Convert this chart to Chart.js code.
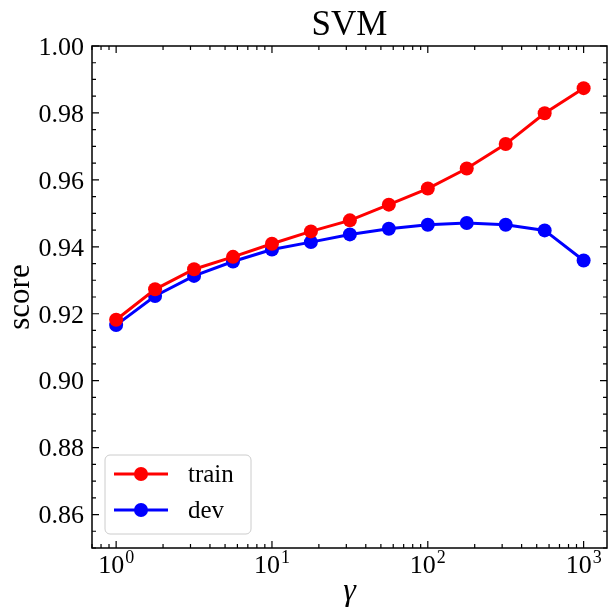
<!DOCTYPE html>
<html>
<head>
<meta charset="utf-8">
<script src="https://cdn.jsdelivr.net/npm/chart.js@4/dist/chart.umd.min.js"></script>
<style>
  html, body { margin: 0; padding: 0; background: #fff; }
  #wrap { width: 608px; height: 614px; }
</style>
</head>
<body>
<div id="wrap"><canvas id="chart" width="608" height="614"></canvas></div>
<script>
// Data
const gammas = [1, 1.778, 3.162, 5.623, 10, 17.78, 31.62, 56.23, 100, 177.8, 316.2, 562.3, 1000];
const trainScores = [0.9182, 0.9273, 0.9333, 0.9370, 0.9409, 0.9446, 0.9479, 0.9526, 0.9574, 0.9634, 0.9707, 0.9799, 0.9874];
const devScores = [0.9166, 0.9253, 0.9313, 0.9356, 0.9392, 0.9414, 0.9437, 0.9454, 0.9466, 0.9471, 0.9466, 0.9449, 0.9359];
const yTickValues = [0.86, 0.88, 0.90, 0.92, 0.94, 0.96, 0.98, 1.00];
const xTickExponents = [0, 1, 2, 3];

const FONT = "'Liberation Serif', 'DejaVu Serif', serif";

// Draws the matplotlib-like frame, inward ticks, labels, title and legend
const decorPlugin = {
    id: 'decor',
    afterDraw(chart) {
        const ctx = chart.ctx;
        const area = chart.chartArea;
        const xs = chart.scales.x;
        const ys = chart.scales.y;

        ctx.save();
        ctx.strokeStyle = '#000';
        ctx.fillStyle = '#000';

        // frame
        ctx.lineWidth = 1.5;
        ctx.strokeRect(area.left, area.top, area.right - area.left, area.bottom - area.top);

        ctx.lineWidth = 1.2;
        function vTick(x, len) {
            ctx.beginPath();
            ctx.moveTo(x, area.bottom); ctx.lineTo(x, area.bottom - len);
            ctx.moveTo(x, area.top); ctx.lineTo(x, area.top + len);
            ctx.stroke();
        }
        function hTick(y, len) {
            ctx.beginPath();
            ctx.moveTo(area.left, y); ctx.lineTo(area.left + len, y);
            ctx.moveTo(area.right, y); ctx.lineTo(area.right - len, y);
            ctx.stroke();
        }

        // y ticks
        for (let i = 0; i <= 30; i++) {
            const v = ys.min + i * 0.005;
            const y = ys.getPixelForValue(v);
            const major = yTickValues.some(t => Math.abs(t - v) < 1e-6);
            hTick(y, major ? 7 : 4);
        }

        // x ticks (log)
        for (let e = -1; e <= 3; e++) {
            for (let m = 1; m <= 9; m++) {
                const v = m * Math.pow(10, e);
                if (v < xs.min || v > xs.max) continue;
                vTick(xs.getPixelForValue(v), m === 1 ? 7 : 4);
            }
        }

        // y tick labels
        ctx.font = '26px ' + FONT;
        ctx.textAlign = 'right';
        ctx.textBaseline = 'middle';
        yTickValues.forEach(v => {
            ctx.fillText(v.toFixed(2), area.left - 8, ys.getPixelForValue(v) + 2);
        });

        // x tick labels: 10^n
        ctx.textBaseline = 'alphabetic';
        ctx.textAlign = 'left';
        xTickExponents.forEach(n => {
            const x = xs.getPixelForValue(Math.pow(10, n));
            ctx.font = '26px ' + FONT;
            const baseW = ctx.measureText('10').width;
            ctx.font = '18px ' + FONT;
            const supW = ctx.measureText(String(n)).width;
            const start = x - (baseW + supW + 1) / 2;
            ctx.font = '26px ' + FONT;
            ctx.fillText('10', start, area.bottom + 25);
            ctx.font = '18px ' + FONT;
            ctx.fillText(String(n), start + baseW + 1, area.bottom + 15);
        });

        // title
        ctx.textAlign = 'center';
        ctx.font = '35px ' + FONT;
        ctx.fillText('SVM', (area.left + area.right) / 2, 35);

        // x axis label
        ctx.font = 'italic 32px ' + FONT;
        ctx.fillText('γ', (area.left + area.right) / 2, 600);

        // y axis label
        ctx.save();
        ctx.translate(29, (area.top + area.bottom) / 2);
        ctx.rotate(-Math.PI / 2);
        ctx.font = '31px ' + FONT;
        ctx.fillText('score', 0, 0);
        ctx.restore();

        // legend
        const lx = 105, ly = 455, lw = 146, lh = 79;
        ctx.beginPath();
        ctx.roundRect(lx, ly, lw, lh, 5);
        ctx.fillStyle = 'rgba(255,255,255,0.85)';
        ctx.fill();
        ctx.strokeStyle = '#cccccc';
        ctx.lineWidth = 1;
        ctx.stroke();

        chart.data.datasets.forEach((ds, i) => {
            const rowY = ly + 19 + i * 36;
            ctx.strokeStyle = ds.borderColor;
            ctx.lineWidth = 3;
            ctx.beginPath();
            ctx.moveTo(lx + 9, rowY);
            ctx.lineTo(lx + 63, rowY);
            ctx.stroke();
            ctx.fillStyle = ds.backgroundColor;
            ctx.beginPath();
            ctx.arc(lx + 36, rowY, 7, 0, Math.PI * 2);
            ctx.fill();
            ctx.fillStyle = '#000';
            ctx.font = '25px ' + FONT;
            ctx.textAlign = 'left';
            ctx.textBaseline = 'middle';
            ctx.fillText(ds.label, lx + 83, rowY + 1);
        });

        ctx.restore();
    }
};

const ctx = document.getElementById('chart').getContext('2d');
new Chart(ctx, {
    type: 'line',
    data: {
        datasets: [
            {
                label: 'train',
                data: gammas.map((g, i) => ({ x: g, y: trainScores[i] })),
                borderColor: '#ff0000',
                backgroundColor: '#ff0000',
                borderWidth: 3,
                pointRadius: 7,
                pointBorderWidth: 0,
                tension: 0
            },
            {
                label: 'dev',
                data: gammas.map((g, i) => ({ x: g, y: devScores[i] })),
                borderColor: '#0000ff',
                backgroundColor: '#0000ff',
                borderWidth: 3,
                pointRadius: 7,
                pointBorderWidth: 0,
                tension: 0
            }
        ]
    },
    options: {
        responsive: false,
        animation: false,
        events: [],
        layout: {
            autoPadding: false,
            padding: { left: 92, top: 46, right: 1, bottom: 66 }
        },
        plugins: {
            legend: { display: false },
            title: { display: false },
            tooltip: { enabled: false }
        },
        scales: {
            x: {
                type: 'logarithmic',
                display: false,
                min: Math.pow(10, -0.15),
                max: Math.pow(10, 3.15)
            },
            y: {
                type: 'linear',
                display: false,
                min: 0.85,
                max: 1.00
            }
        }
    },
    plugins: [decorPlugin]
});
</script>
</body>
</html>
